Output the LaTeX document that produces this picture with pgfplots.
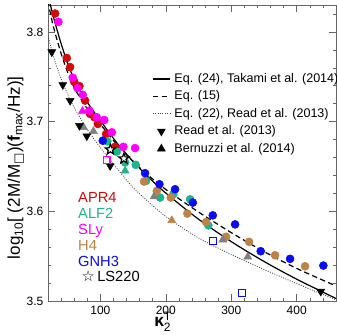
\documentclass[border=0pt]{standalone}
\usepackage{fontspec}
\setmainfont{Liberation Sans}
\newfontfamily\dejavu{DejaVu Sans}
\usepackage{amsmath}
\usepackage{pgfplots}
\pgfplotsset{compat=1.18}

\definecolor{apr}{RGB}{210,10,10}
\definecolor{alf}{RGB}{30,180,140}
\definecolor{sly}{RGB}{255,0,255}
\definecolor{hfour}{RGB}{190,130,70}
\definecolor{gnh}{RGB}{10,10,245}

\pgfdeclareplotmark{pentagram}{%
  \pgfpathmoveto{\pgfpointpolar{90}{\pgfplotmarksize}}%
  \pgfpathlineto{\pgfpointpolar{126}{0.42\pgfplotmarksize}}%
  \pgfpathlineto{\pgfpointpolar{162}{\pgfplotmarksize}}%
  \pgfpathlineto{\pgfpointpolar{198}{0.42\pgfplotmarksize}}%
  \pgfpathlineto{\pgfpointpolar{234}{\pgfplotmarksize}}%
  \pgfpathlineto{\pgfpointpolar{270}{0.42\pgfplotmarksize}}%
  \pgfpathlineto{\pgfpointpolar{306}{\pgfplotmarksize}}%
  \pgfpathlineto{\pgfpointpolar{342}{0.42\pgfplotmarksize}}%
  \pgfpathlineto{\pgfpointpolar{18}{\pgfplotmarksize}}%
  \pgfpathlineto{\pgfpointpolar{54}{0.42\pgfplotmarksize}}%
  \pgfpathclose
  \pgfusepathqfillstroke}

\pgfplotsset{
  linelegend/.style={legend image code/.code={\draw[##1] (0pt,0pt) -- (12.75pt,0pt);}},
  marklegend/.style={legend image code/.code={\draw[mark repeat=2,mark phase=2,##1] plot coordinates {(0pt,0pt) (6.4pt,0pt) (12.8pt,0pt)};}},
}

\begin{document}
\begin{tikzpicture}
\begin{axis}[
  scale only axis, width=216pt, height=222pt,
  xmin=20, xmax=460, ymin=3.5, ymax=3.83,
  xtick={100,200,300,400},
  minor xtick={20,40,60,80,120,140,160,180,220,240,260,280,320,340,360,380,420,440,460},
  ytick={3.5,3.6,3.7,3.8},
  minor ytick={3.52,3.54,3.56,3.58,3.62,3.64,3.66,3.68,3.72,3.74,3.76,3.78,3.82},
  yticklabel style={/pgf/number format/.cd, fixed, fixed zerofill, precision=1},
  /pgf/number format/assume math mode=true,
  tick label style={font=\fontsize{9}{10}\selectfont},
  major tick length=5pt, minor tick length=2.5pt,
  axis line style={black!60},
  every tick/.style={black!60},
  xlabel={\textbf{κ}$^{\text{T}}_{\text{2}}$},
  xlabel style={at={(axis description cs:0.40,-0.071)}, anchor=center, font=\fontsize{13}{14}\selectfont},
  ylabel={log\textsubscript{10}[ (2M/M\textsubscript{{\dejavu □}})(\textbf{f}\textsubscript{max}/Hz)]},
  ylabel style={at={(axis description cs:-0.112,0.45)}, anchor=center, font=\fontsize{12.8}{14}\selectfont},
  legend style={at={(0.361,0.776)}, anchor=north west, draw=none, fill=none, inner sep=0pt,
    font=\fontsize{9.4}{11}\selectfont, row sep=2.1pt,
    nodes={inner sep=1pt, text height=7pt, text depth=2pt},
    /tikz/every odd column/.append style={column sep=2pt}},
  legend cell align=left,
  linelegend,
]
% ---- data points ----
\addplot[forget plot, only marks, mark=*, mark size=3pt, color=apr] coordinates {
 (30.9,3.8205) (48.7,3.7709) (53.8,3.7608) (59.9,3.7447) (68.0,3.7396) (76.7,3.7234)
 (84.3,3.7086) (90.9,3.7049) (96.1,3.6974) (108.8,3.6862) (122.4,3.6719)};
\addplot[forget plot, only marks, mark=*, mark size=3pt, color=sly] coordinates {
 (35.9,3.8112) (57.9,3.7489) (64.9,3.7373) (73.2,3.7298) (83.2,3.7122) (94.5,3.7049)
 (106.0,3.7018) (117.5,3.6881) (135.2,3.6719) (153.0,3.6705)};
\addplot[forget plot, only marks, mark=*, mark size=3pt, color=alf] coordinates {
 (110.7,3.6780) (125.1,3.6664) (137.8,3.6545) (154.1,3.6518) (169.8,3.6339)
 (191.2,3.6153) (211.5,3.6190) (237.1,3.6134) (265.0,3.5843)};
\addplot[forget plot, only marks, mark=*, mark size=3pt, color=hfour] coordinates {
 (166.8,3.6332) (186.2,3.6227) (207.6,3.6153) (232.9,3.5975) (261.5,3.5880)
 (292.0,3.5716) (327.2,3.5660) (366.9,3.5510) (412.7,3.5387)};
\addplot[forget plot, only marks, mark=*, mark size=3pt, color=gnh] coordinates {
 (103.7,3.6787) (168.3,3.6425) (190.2,3.6302) (214.1,3.6246) (241.2,3.6097)
 (271.7,3.5955) (305.8,3.5854) (345.0,3.5555) (389.8,3.5470) (440.7,3.5395)};
% Bernuzzi triangles
\addplot[forget plot, only marks, mark=triangle*, mark size=3.4pt, color=sly] coordinates {(72.6,3.7116)};
\addplot[forget plot, only marks, mark=triangle*, mark size=3.4pt, color=alf] coordinates {(137.8,3.6451)};
\addplot[forget plot, only marks, mark=triangle*, mark size=3.4pt, color=hfour] coordinates {(209.1,3.5899)};
\addplot[forget plot, only marks, mark=triangle*, mark size=3.4pt, color=gray] coordinates {
 (74.1,3.6937) (89.4,3.6892) (182.1,3.6164) (287.0,3.5683) (325.2,3.5493)};
% Read triangles
\addplot[forget plot, only marks, mark=triangle*, mark size=3.4pt, color=black, mark options={rotate=180}] coordinates {
 (25.8,3.7776) (42.6,3.7410) (53.8,3.7234) (68.0,3.6955) (79.3,3.6839) (114.9,3.6507) (436.7,3.5107)};
% open squares
\addplot[forget plot, only marks, mark=square, mark size=2.6pt, color=sly, line width=0.9pt] coordinates {(109.5,3.6574)};
\addplot[forget plot, only marks, mark=square, mark size=2.6pt, color=gnh, line width=0.9pt] coordinates {(272.6,3.5673) (316.0,3.5090)};
% LS220 stars
\addplot[forget plot, only marks, mark=pentagram, mark size=4pt, line width=0.9pt, mark options={draw=black, fill=white}] coordinates {
 (115.3,3.6688) (135.9,3.6587)};
% ---- fits ----
\addplot[black, line width=0.9pt, smooth] coordinates {
 (22,3.8356) (25,3.8261) (30,3.8121) (40,3.787) (50,3.765) (60,3.747) (70,3.7335)
 (80,3.7215) (100,3.7011) (125,3.6766) (150,3.6556) (175,3.6370) (200,3.6203)
 (250,3.5912) (300,3.5662) (350,3.5441) (400,3.5243) (460,3.5028)};
\addlegendentry{Eq. (24), Takami et al. (2014)}
\addplot[black, line width=0.9pt, smooth, dash pattern=on 4pt off 2.5pt] coordinates {
 (20,3.8345) (25,3.816) (30,3.801) (40,3.776) (50,3.755) (60,3.738) (70,3.7255)
 (80,3.7145) (100,3.6971) (125,3.6746) (150,3.6556) (175,3.6390) (200,3.6243)
 (250,3.5992) (300,3.5762) (350,3.5551) (400,3.5363) (460,3.5168)};
\addlegendentry{Eq. (15)}
\addplot[black!75, line width=0.6pt, smooth, dash pattern=on 0.7pt off 1.1pt] coordinates {
 (20,3.7959) (25,3.7813) (30,3.7687) (40,3.7478) (50,3.7305) (60,3.7158) (80,3.6912)
 (100,3.6710) (125,3.648) (150,3.6266) (175,3.6096) (200,3.5942) (250,3.5703)
 (300,3.5519) (350,3.5352) (400,3.5194) (460,3.5013)};
\addlegendentry{Eq. (22), Read et al. (2013)}
\addlegendimage{only marks, mark=triangle*, mark size=3.4pt, black, mark options={rotate=180}, marklegend}
\addlegendentry{Read et al. (2013)}
\addlegendimage{only marks, mark=triangle*, mark size=3.4pt, black, marklegend}
\addlegendentry{Bernuzzi et al. (2014)}
% ---- EOS labels ----
\node[anchor=mid west, inner sep=0pt, text=apr, font=\fontsize{11}{12}\selectfont] at (rel axis cs:0.104,0.3446) {APR4};
\node[anchor=mid west, inner sep=0pt, text=alf, font=\fontsize{11}{12}\selectfont] at (rel axis cs:0.104,0.2905) {ALF2};
\node[anchor=mid west, inner sep=0pt, text=sly, font=\fontsize{11}{12}\selectfont] at (rel axis cs:0.104,0.2365) {SLy};
\node[anchor=mid west, inner sep=0pt, text=hfour, font=\fontsize{11}{12}\selectfont] at (rel axis cs:0.104,0.1824) {H4};
\node[anchor=mid west, inner sep=0pt, text=gnh, font=\fontsize{11}{12}\selectfont] at (rel axis cs:0.104,0.1284) {GNH3};
\node[anchor=mid west, inner sep=0pt, text=black, font=\fontsize{11}{12}\selectfont] at (rel axis cs:0.116,0.0767) {{\dejavu\bfseries ☆}\,LS220};
\end{axis}
\pgfresetboundingbox
\path[use as bounding box] ([shift={(-36pt,-24.75pt)}]current axis.south west) rectangle ([shift={(0.75pt,3.75pt)}]current axis.north east);
\end{tikzpicture}
\end{document}
